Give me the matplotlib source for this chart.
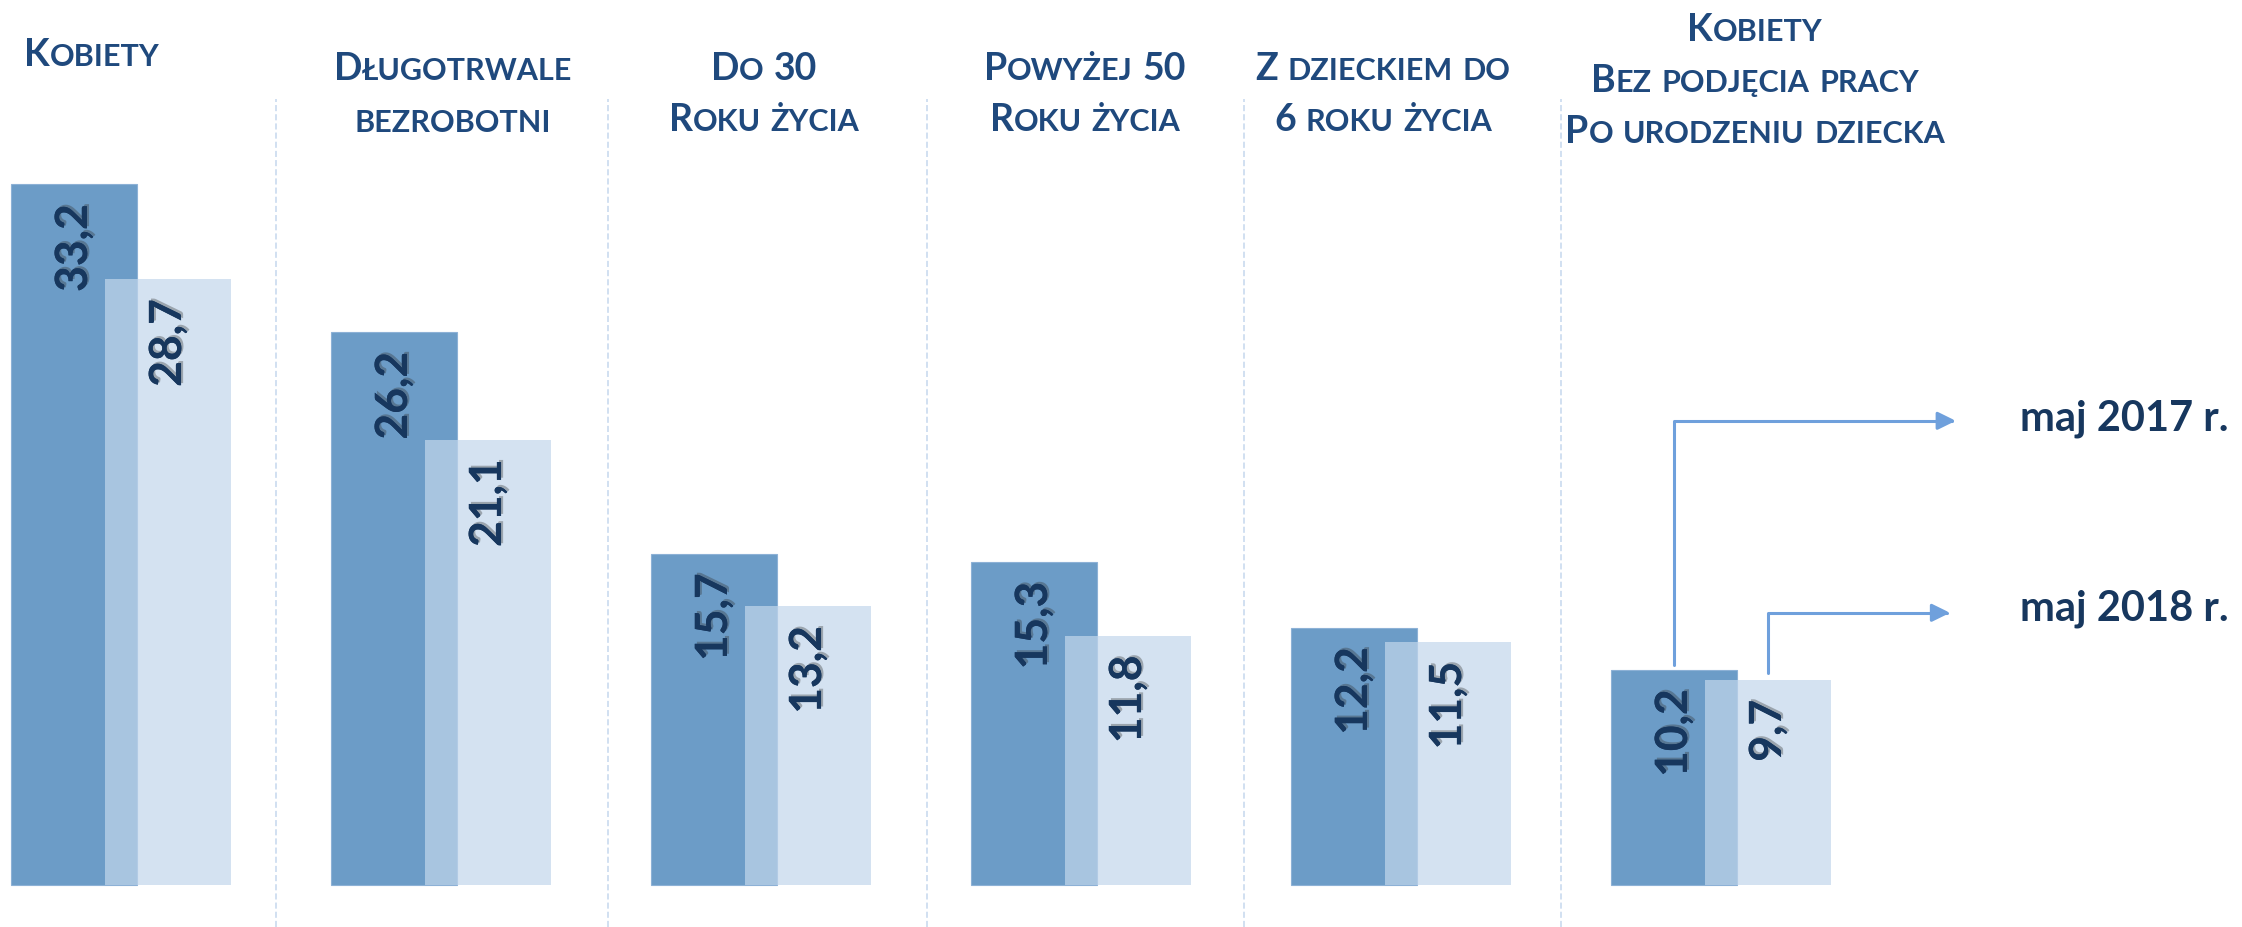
import numpy as np
import matplotlib.pyplot as plt
import matplotlib.patheffects as pe
from matplotlib.offsetbox import TextArea, HPacker, AnnotationBbox

plt.rcParams['font.family'] = ['Lato', 'DejaVu Sans']

# share of the unemployed in each group, %
categories = [
    'Kobiety',
    'Długotrwale\nbezrobotni',
    'Do 30\nRoku życia',
    'Powyżej 50\nRoku życia',
    'Z dzieckiem do\n6 roku życia',
    'Kobiety\nBez podjęcia pracy\nPo urodzeniu dziecka',
]
may_2017 = [33.2, 26.2, 15.7, 15.3, 12.2, 10.2]
may_2018 = [28.7, 21.1, 13.2, 11.8, 11.5, 9.7]
series_names = ['maj 2017 r.', 'maj 2018 r.']

DARK = '#6C9CC7'
LIGHT = '#C3D7EC'
TITLE_COLOR = '#1F497D'
VALUE_COLOR = '#17375E'
ARROW_COLOR = '#6FA0DC'
DIVIDER_COLOR = '#C5D7EE'

W, H = 2242, 928
fig = plt.figure(figsize=(W / 100, H / 100), dpi=100)
ax = fig.add_axes([0, 0, 1, 1])
ax.axis('off')

# one group = 320 px, 1 percentage point = 21.1 px, baseline 886 px from the top
ax.set_xlim(-121 / 320, (W - 121) / 320)
ax.set_ylim(-(H - 886) / 21.1, 886 / 21.1)

x = np.arange(len(categories))
off, bw = 0.147, 0.394
ax.bar(x - off, may_2017, width=bw, color=DARK, edgecolor='#8DB1D6', linewidth=0.8, zorder=2)
ax.bar(x + off, may_2018, width=bw, color=LIGHT, alpha=0.7, linewidth=0, zorder=3)


def fmt(v):
    return f'{v:.1f}'.replace('.', ',')


shadow = [pe.withSimplePatchShadow(offset=(1.5, 1.5), shadow_rgbFace='#333333', alpha=0.35), pe.Normal()]
for xs, vals in ((x - off, may_2017), (x + off, may_2018)):
    for xi, v in zip(xs, vals):
        ax.annotate(fmt(v), (xi, v), xytext=(0, -14), textcoords='offset points',
                    rotation=90, ha='center', va='top', fontsize=32, fontweight='bold',
                    color=VALUE_COLOR, path_effects=shadow, zorder=5)

# dashed separators between the groups
for dx in [0.484, 1.522, 2.519, 3.509, 4.5]:
    ax.plot([dx, dx], [-2, (886 - 100) / 21.1], color=DIVIDER_COLOR, lw=1.1,
            dashes=(4, 2), zorder=1)


def small_caps(line, big=27, small=22):
    words = []
    for word in line.split(' '):
        runs = []
        for ch in word:
            size = small if ch.islower() else big
            if runs and runs[-1][1] == size:
                runs[-1][0] += ch.upper()
            else:
                runs.append([ch.upper(), size])
        parts = [TextArea(t, textprops=dict(fontsize=s, fontweight='bold', color=TITLE_COLOR))
                 for t, s in runs]
        words.append(HPacker(children=parts, align='baseline', pad=0, sep=0))
    return HPacker(children=words, align='baseline', pad=0, sep=7)


# group headers: centre x and first baseline, in pixels from the top-left
header_pos = [(92, 65), (453, 79), (764, 79), (1085, 79), (1383, 79), (1755, 40)]
line_step = 51
for label, (cx, base) in zip(categories, header_pos):
    for k, line in enumerate(label.split('\n')):
        y = H - (base + k * line_step) - 7
        ab = AnnotationBbox(small_caps(line), (cx, y), xycoords='figure pixels',
                            box_alignment=(0.5, 0), frameon=False, pad=0)
        fig.add_artist(ab)

# legend arrows from the last pair of bars
arrow_y = [22.0, 12.9]
arrow_tip = [5.734, 5.716]
text_base = [21.6, 12.6]
starts = [(x[-1] - off, may_2017[-1] + 0.25), (x[-1] + off, may_2018[-1] + 0.35)]
for (sx, sy), ay, tip, tb, name in zip(starts, arrow_y, arrow_tip, text_base, series_names):
    ax.annotate('', xy=(tip, ay), xytext=(sx, sy),
                arrowprops=dict(arrowstyle='-|>,head_length=0.55,head_width=0.27',
                                connectionstyle='angle,angleA=90,angleB=0,rad=0',
                                color=ARROW_COLOR, lw=2.2, shrinkA=0, shrinkB=0,
                                mutation_scale=20))
    ax.text(5.934, tb, name, ha='left', va='baseline', fontsize=30,
            fontweight='bold', color=VALUE_COLOR)

fig.savefig('out.png', dpi=100)
